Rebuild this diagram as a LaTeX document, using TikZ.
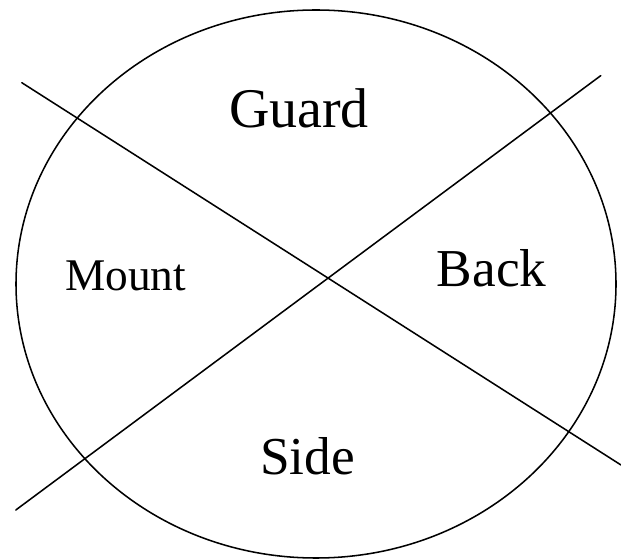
\documentclass[tikz,border=0pt]{standalone}
\usepackage{fontspec}
\setmainfont{Liberation Serif}
\usetikzlibrary{positioning}
\tikzset{
  every picture/.style={line width=1.15pt},
  cut/.style={draw=black, line cap=round},
  zone/.style={anchor=base, inner sep=0pt, font=\fontsize{#1}{#1}\selectfont},
  zone/.default=40,
}

\begin{document}
\begin{tikzpicture}[x=0.75pt, y=-0.75pt]
  \useasboundingbox (0,0) rectangle (621,559);
  % the mat
  \draw (316,284) ellipse [x radius=300, y radius=274];
  % the two cutting lines
  \coordinate (tl) at (21.8,82.7);
  \coordinate (br) at (621,465);
  \coordinate (bl) at (15.8,510);
  \coordinate (tr) at (600.8,75.6);
  \draw[cut] (tl) -- (br);
  \draw[cut] (bl) -- (tr);
  % the four positions
  \node[zone=42] (guard) at (299,128) {Guard};
  \node[zone=34] (mount) at (125.7,290.6) {Mount};
  \node[zone=40] (back) at (491.7,287) {Back};
  \node[zone=40] (side) at (307.5,474) {Side};
\end{tikzpicture}
\end{document}
